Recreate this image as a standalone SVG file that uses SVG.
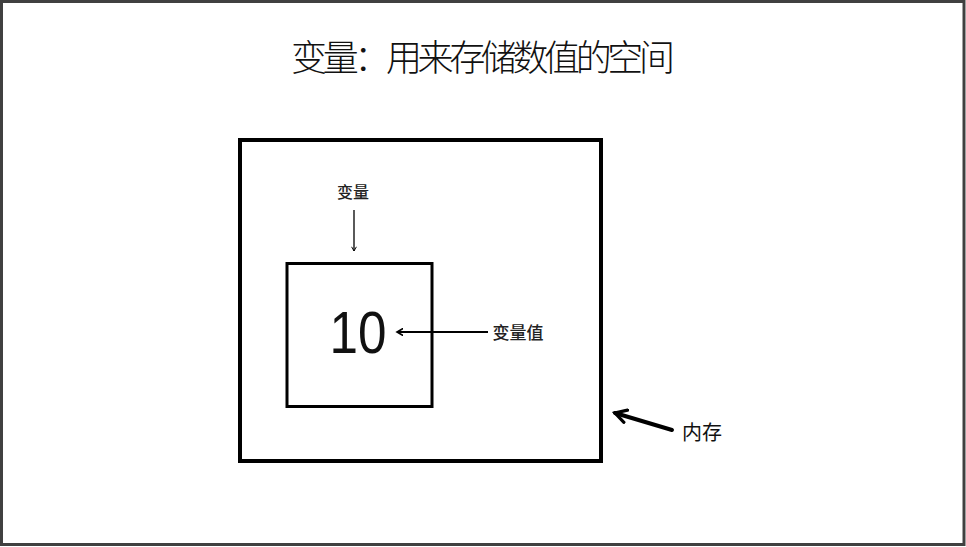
<svg xmlns="http://www.w3.org/2000/svg" width="966" height="547" viewBox="0 0 966 547">
<defs>
<style>
.cjk{font-family:"Noto Sans CJK SC","Noto Sans",sans-serif;fill:#111}
.lbl{font-weight:500;fill:#222}
.box{fill:none;stroke:#000;stroke-linejoin:miter}
</style>
<marker id="ah" viewBox="0 0 10 10" refX="8" refY="5" markerWidth="6" markerHeight="6" orient="auto" markerUnits="userSpaceOnUse">
<path d="M1,1 L8,5 L1,9" fill="none" stroke="#000" stroke-width="1.6"/>
</marker>
<marker id="ah2" viewBox="0 0 10 10" refX="8" refY="5" markerWidth="4" markerHeight="4" orient="auto">
<path d="M1,1 L8,5 L1,9" fill="none" stroke="#000" stroke-width="2" stroke-linecap="round"/>
</marker>
</defs>
<rect x="0" y="0" width="966" height="547" fill="#fff"/>
<rect x="1.5" y="1.5" width="962.5" height="543" fill="none" stroke="#404040" stroke-width="3"/>
<text class="cjk" x="483" y="71" font-size="36" font-weight="300" text-anchor="middle" textLength="384" lengthAdjust="spacing">变量：用来存储数值的空间</text>
<g id="memory">
<rect class="box" x="240" y="140" width="361" height="321" stroke-width="4"/>
</g>
<g id="variable">
<rect class="box" x="287" y="263.5" width="145" height="143" stroke-width="3"/>
<text x="358" y="353" font-family="Liberation Sans, Arial, sans-serif" font-size="60" text-anchor="middle" textLength="57" lengthAdjust="spacingAndGlyphs" fill="#111">10</text>
</g>
<g id="labels">
<text class="cjk lbl" x="353" y="198" font-size="16" text-anchor="middle">变量</text>
<text class="cjk lbl" x="518" y="339" font-size="17" text-anchor="middle">变量值</text>
<text class="cjk" x="702" y="440" font-size="20" text-anchor="middle">内存</text>
</g>
<g id="connectors" stroke="#000" fill="none">
<line x1="354" y1="210" x2="354" y2="251" stroke-width="1.3" marker-end="url(#ah)"/>
<line x1="488" y1="332" x2="397" y2="332" stroke-width="2" marker-end="url(#ah2)"/>
<line x1="672" y1="430" x2="615" y2="413" stroke-width="4" stroke-linecap="round" marker-end="url(#ah2)"/>
</g>
</svg>
